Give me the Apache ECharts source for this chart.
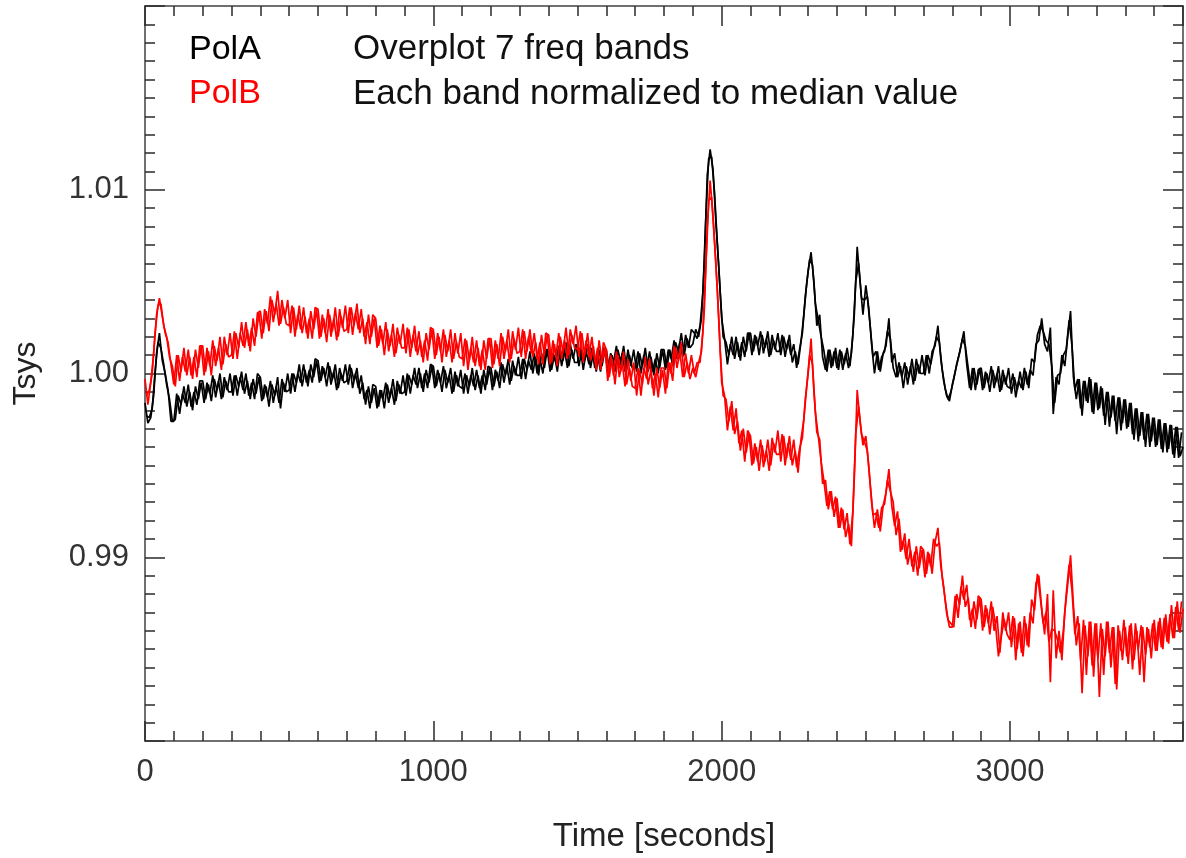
<!DOCTYPE html>
<html>
<head>
<meta charset="utf-8">
<script src="https://cdn.jsdelivr.net/npm/echarts@6/dist/echarts.min.js"></script>
<style>
html,body{margin:0;padding:0;background:#fff;}
#chart{width:1186px;height:858px;}
</style>
</head>
<body>
<div id="chart"></div>
<script>
// Sampling step of the traces (seconds); band 1 starts at 0 s, band 2 at 5 s
const SAMPLE_STEP = 10;
const BAND_START = [0, 5];

// PolA (black) Tsys, frequency band 1, t = 0,10,...,3600 s
const polA1 = [
0.9984,0.9973,0.9976,0.9988,1.0011,1.0022,1.0007,1.0000,0.9991,0.9974,
0.9974,0.9989,0.9978,0.9989,0.9984,0.9994,0.9982,0.9990,0.9983,0.9996,
0.9996,0.9986,0.9994,0.9985,0.9997,0.9991,1.0000,0.9987,0.9996,0.9990,
0.9990,0.9999,0.9988,0.9998,0.9991,1.0000,0.9988,0.9995,0.9986,1.0000,
0.9998,0.9986,0.9993,0.9982,0.9994,0.9988,0.9998,0.9981,0.9995,0.9990,
0.9991,1.0000,0.9990,1.0000,0.9995,1.0005,0.9995,1.0002,0.9995,1.0008,
1.0007,0.9996,1.0003,0.9993,1.0004,0.9997,1.0005,0.9992,1.0000,0.9995,
0.9996,1.0005,0.9992,1.0000,0.9992,0.9999,0.9986,0.9991,0.9981,0.9994,
0.9993,0.9982,0.9991,0.9981,0.9994,0.9987,0.9997,0.9985,0.9994,0.9989,
0.9990,1.0000,0.9989,0.9999,0.9994,1.0003,0.9992,1.0000,0.9992,1.0005,
1.0004,0.9993,1.0000,0.9990,1.0002,0.9995,1.0003,0.9990,0.9999,0.9993,
0.9992,1.0000,0.9989,0.9999,0.9993,1.0002,0.9992,0.9999,0.9991,1.0004,
1.0003,0.9993,1.0001,0.9992,1.0005,0.9999,1.0008,0.9996,1.0004,0.9999,
0.9999,1.0008,0.9997,1.0007,1.0002,1.0011,1.0000,1.0008,1.0000,1.0013,
1.0013,1.0002,1.0010,1.0001,1.0013,1.0007,1.0017,1.0004,1.0013,1.0006,
1.0006,1.0014,1.0002,1.0012,1.0005,1.0014,1.0003,1.0010,1.0001,1.0014,
1.0013,1.0002,1.0010,1.0001,1.0013,1.0006,1.0015,1.0002,1.0010,1.0003,
1.0003,1.0012,1.0000,1.0010,1.0003,1.0012,1.0001,1.0008,1.0000,1.0013,
1.0013,1.0003,1.0013,1.0004,1.0017,1.0012,1.0022,1.0010,1.0019,1.0014,
1.0016,1.0024,1.0020,1.0030,1.0060,1.0108,1.0122,1.0111,1.0082,1.0058,
1.0030,1.0019,1.0005,1.0016,1.0010,1.0020,1.0009,1.0017,1.0009,1.0022,
1.0022,1.0012,1.0020,1.0010,1.0021,1.0014,1.0023,1.0010,1.0018,1.0012,
1.0012,1.0021,1.0009,1.0018,1.0010,1.0016,1.0003,1.0013,1.0022,1.0042,
1.0056,1.0066,1.0050,1.0026,1.0032,1.0009,1.0002,1.0013,1.0003,1.0012,
1.0003,1.0013,1.0002,1.0011,1.0003,1.0011,1.0032,1.0069,1.0050,1.0032,
1.0048,1.0036,1.0016,1.0000,1.0012,1.0001,1.0011,1.0015,1.0030,1.0006,
1.0011,0.9998,1.0004,0.9992,1.0004,0.9998,1.0008,0.9996,1.0005,1.0000,
1.0000,1.0010,1.0000,1.0012,1.0015,1.0026,1.0008,0.9996,0.9988,0.9985,
0.9994,1.0001,1.0008,1.0015,1.0023,1.0005,0.9992,1.0003,0.9991,1.0002,
1.0003,0.9992,1.0000,0.9990,1.0002,0.9995,1.0004,0.9991,0.9999,0.9993,
0.9992,1.0000,0.9987,0.9996,0.9992,1.0003,0.9994,1.0002,0.9999,1.0016,
1.0018,1.0030,1.0016,1.0012,1.0025,0.9978,0.9998,0.9994,1.0010,1.0004,
1.0020,1.0034,0.9998,0.9986,0.9997,0.9977,0.9996,0.9984,0.9997,0.9978,
0.9995,0.9981,0.9992,0.9972,0.9990,0.9976,0.9988,0.9967,0.9987,0.9973,
0.9986,0.9971,0.9984,0.9964,0.9981,0.9966,0.9979,0.9960,0.9978,0.9963,
0.9976,0.9961,0.9975,0.9957,0.9973,0.9959,0.9972,0.9954,0.9971,0.9955,
0.9960
];

// PolA (black) Tsys, frequency band 2, t = 5,15,...,3595 s
const polA2 = [
0.9977,0.9976,0.9981,1.0001,1.0017,1.0014,1.0005,0.9994,0.9986,0.9974,
0.9975,0.9988,0.9983,0.9993,0.9982,0.9990,0.9980,0.9993,0.9986,0.9995,
0.9984,0.9995,0.9989,0.9999,0.9987,0.9996,0.9986,0.9998,0.9991,1.0000,
0.9988,0.9999,0.9993,1.0001,0.9989,0.9996,0.9986,0.9997,0.9989,0.9998,
0.9985,0.9994,0.9987,0.9996,0.9984,0.9993,0.9984,0.9997,0.9990,1.0000,
0.9989,1.0000,0.9995,1.0005,0.9993,1.0002,0.9993,1.0005,0.9998,1.0007,
0.9995,1.0004,0.9998,1.0006,0.9994,1.0001,0.9991,1.0003,0.9996,1.0005,
0.9994,1.0003,0.9996,1.0003,0.9989,0.9995,0.9983,0.9993,0.9984,0.9992,
0.9981,0.9991,0.9986,0.9995,0.9984,0.9992,0.9983,0.9996,0.9989,0.9999,
0.9988,0.9999,0.9994,1.0003,0.9992,1.0000,0.9990,1.0002,0.9995,1.0004,
0.9992,1.0002,0.9995,1.0004,0.9992,0.9999,0.9989,1.0001,0.9993,1.0002,
0.9989,0.9999,0.9993,1.0003,0.9991,0.9999,0.9989,1.0002,0.9994,1.0003,
0.9991,1.0002,0.9996,1.0006,0.9995,1.0004,0.9994,1.0007,0.9999,1.0009,
0.9997,1.0008,1.0002,1.0012,1.0000,1.0009,0.9999,1.0011,1.0003,1.0013,
1.0001,1.0011,1.0006,1.0015,1.0004,1.0013,1.0003,1.0016,1.0008,1.0016,
1.0004,1.0013,1.0007,1.0016,1.0003,1.0011,1.0001,1.0013,1.0004,1.0013,
1.0001,1.0011,1.0006,1.0015,1.0003,1.0011,1.0001,1.0013,1.0004,1.0013,
1.0001,1.0011,1.0004,1.0014,1.0001,1.0009,0.9999,1.0011,1.0003,1.0013,
1.0002,1.0013,1.0008,1.0018,1.0008,1.0017,1.0009,1.0021,1.0014,1.0024,
1.0022,1.0019,1.0026,1.0044,1.0085,1.0117,1.0118,1.0099,1.0071,1.0044,
1.0020,1.0017,1.0010,1.0020,1.0008,1.0017,1.0007,1.0020,1.0012,1.0022,
1.0010,1.0021,1.0015,1.0023,1.0011,1.0019,1.0009,1.0021,1.0013,1.0022,
1.0010,1.0020,1.0013,1.0021,1.0006,1.0012,1.0005,1.0017,1.0032,1.0049,
1.0062,1.0059,1.0038,1.0029,1.0020,1.0012,1.0001,1.0013,1.0004,1.0014,
1.0002,1.0012,1.0005,1.0014,1.0004,1.0021,1.0050,1.0060,1.0041,1.0040,
1.0042,1.0026,1.0009,1.0012,1.0002,1.0009,1.0012,1.0023,1.0019,1.0003,
0.9998,1.0006,0.9998,1.0006,0.9994,1.0004,0.9994,1.0008,1.0000,1.0010,
0.9999,1.0010,1.0005,1.0013,1.0020,1.0017,1.0002,0.9992,0.9986,0.9990,
0.9997,1.0005,1.0011,1.0019,1.0015,1.0003,0.9991,1.0003,0.9994,1.0003,
0.9991,1.0001,0.9995,1.0004,0.9992,1.0000,0.9990,1.0002,0.9994,1.0003,
0.9989,0.9998,0.9991,1.0001,0.9991,1.0001,0.9992,1.0008,1.0006,1.0021,
1.0026,1.0023,1.0018,1.0016,1.0004,0.9984,0.9999,1.0000,1.0010,1.0013,
1.0029,1.0015,0.9991,0.9997,0.9981,0.9996,0.9985,0.9998,0.9979,0.9995,
0.9980,0.9993,0.9977,0.9990,0.9971,0.9988,0.9974,0.9987,0.9969,0.9986,
0.9970,0.9984,0.9967,0.9981,0.9963,0.9979,0.9964,0.9978,0.9960,0.9976,
0.9960,0.9975,0.9959,0.9973,0.9957,0.9972,0.9956,0.9971,0.9954,0.9968
];

// PolB (red) Tsys, frequency band 1, t = 0,10,...,3600 s
const polB1 = [
0.9997,0.9983,0.9995,1.0011,1.0032,1.0041,1.0031,1.0022,1.0017,1.0005,
0.9994,1.0010,0.9996,1.0009,1.0001,1.0013,0.9999,1.0009,0.9998,1.0015,
1.0015,1.0001,1.0012,0.9999,1.0015,1.0007,1.0020,1.0005,1.0016,1.0009,
1.0010,1.0023,1.0008,1.0022,1.0015,1.0028,1.0015,1.0025,1.0015,1.0033,
1.0034,1.0022,1.0034,1.0023,1.0040,1.0032,1.0045,1.0027,1.0036,1.0027,
1.0026,1.0037,1.0020,1.0032,1.0024,1.0036,1.0022,1.0030,1.0019,1.0036,
1.0035,1.0020,1.0030,1.0017,1.0032,1.0023,1.0036,1.0020,1.0031,1.0023,
1.0024,1.0036,1.0021,1.0033,1.0024,1.0035,1.0020,1.0028,1.0016,1.0032,
1.0030,1.0015,1.0024,1.0010,1.0024,1.0015,1.0027,1.0011,1.0021,1.0014,
1.0014,1.0025,1.0009,1.0021,1.0012,1.0023,1.0009,1.0018,1.0007,1.0025,
1.0024,1.0010,1.0020,1.0006,1.0021,1.0012,1.0024,1.0008,1.0017,1.0009,
1.0008,1.0019,1.0002,1.0014,1.0006,1.0018,1.0004,1.0013,1.0002,1.0019,
1.0019,1.0005,1.0016,1.0004,1.0020,1.0012,1.0024,1.0008,1.0019,1.0011,
1.0012,1.0024,1.0008,1.0020,1.0011,1.0022,1.0008,1.0017,1.0005,1.0022,
1.0021,1.0006,1.0016,1.0004,1.0020,1.0012,1.0025,1.0010,1.0021,1.0014,
1.0013,1.0023,1.0006,1.0018,1.0009,1.0020,1.0006,1.0014,1.0002,1.0017,
1.0013,0.9998,1.0008,0.9994,1.0010,1.0001,1.0012,0.9994,1.0003,0.9993,
0.9992,1.0003,0.9988,1.0003,0.9997,1.0008,0.9992,1.0000,0.9987,1.0003,
1.0003,0.9992,1.0006,0.9996,1.0014,1.0007,1.0017,0.9998,1.0006,0.9997,
1.0003,0.9998,1.0006,1.0012,1.0035,1.0080,1.0105,1.0086,1.0060,1.0030,
0.9995,0.9988,0.9969,0.9982,0.9969,0.9981,0.9962,0.9969,0.9952,0.9969,
0.9966,0.9951,0.9960,0.9947,0.9961,0.9952,0.9964,0.9950,0.9962,0.9956,
0.9956,0.9967,0.9950,0.9962,0.9953,0.9964,0.9949,0.9959,0.9965,0.9986,
1.0000,1.0019,0.9990,0.9968,0.9964,0.9940,0.9942,0.9926,0.9936,0.9922,
0.9932,0.9916,0.9926,0.9911,0.9918,0.9906,0.9943,0.9991,0.9974,0.9961,
0.9966,0.9950,0.9930,0.9916,0.9926,0.9914,0.9928,0.9935,0.9948,0.9928,
0.9917,0.9925,0.9903,0.9909,0.9899,0.9910,0.9895,0.9903,0.9890,0.9906,
0.9904,0.9891,0.9902,0.9891,0.9908,0.9916,0.9895,0.9884,0.9870,0.9862,
0.9862,0.9879,0.9867,0.9884,0.9877,0.9885,0.9866,0.9872,0.9861,0.9879,
0.9877,0.9862,0.9872,0.9858,0.9873,0.9863,0.9846,0.9857,0.9866,0.9858,
0.9855,0.9868,0.9844,0.9864,0.9848,0.9868,0.9852,0.9870,0.9864,0.9886,
0.9890,0.9872,0.9858,0.9880,0.9832,0.9882,0.9845,0.9860,0.9844,0.9870,
0.9885,0.9901,0.9874,0.9852,0.9864,0.9826,0.9863,0.9846,0.9865,0.9835,
0.9864,0.9824,0.9861,0.9846,0.9865,0.9840,0.9862,0.9828,0.9860,0.9844,
0.9862,0.9842,0.9864,0.9844,0.9860,0.9836,0.9862,0.9847,0.9861,0.9845,
0.9866,0.9849,0.9867,0.9850,0.9869,0.9853,0.9874,0.9856,0.9876,0.9859,
0.9872
];

// PolB (red) Tsys, frequency band 2, t = 5,15,...,3595 s
const polB2 = [
0.9988,0.9991,1.0000,1.0022,1.0037,1.0038,1.0026,1.0020,1.0009,1.0004,
0.9993,1.0010,1.0001,1.0014,0.9999,1.0009,0.9997,1.0013,1.0003,1.0015,
0.9999,1.0014,1.0004,1.0018,1.0004,1.0014,1.0002,1.0020,1.0010,1.0022,
1.0008,1.0022,1.0014,1.0028,1.0014,1.0024,1.0012,1.0030,1.0020,1.0033,
1.0019,1.0035,1.0027,1.0042,1.0028,1.0038,1.0026,1.0040,1.0030,1.0040,
1.0022,1.0036,1.0024,1.0037,1.0022,1.0031,1.0019,1.0034,1.0024,1.0035,
1.0019,1.0032,1.0022,1.0035,1.0020,1.0030,1.0018,1.0035,1.0025,1.0037,
1.0022,1.0036,1.0026,1.0038,1.0022,1.0030,1.0016,1.0032,1.0020,1.0030,
1.0014,1.0026,1.0016,1.0028,1.0012,1.0021,1.0009,1.0025,1.0016,1.0027,
1.0011,1.0024,1.0014,1.0026,1.0010,1.0018,1.0006,1.0022,1.0013,1.0024,
1.0008,1.0022,1.0012,1.0024,1.0009,1.0018,1.0006,1.0022,1.0011,1.0022,
1.0004,1.0018,1.0007,1.0020,1.0004,1.0014,1.0002,1.0018,1.0008,1.0019,
1.0003,1.0018,1.0008,1.0022,1.0008,1.0018,1.0006,1.0023,1.0013,1.0025,
1.0009,1.0023,1.0012,1.0024,1.0009,1.0017,1.0005,1.0021,1.0010,1.0021,
1.0005,1.0018,1.0009,1.0022,1.0008,1.0018,1.0008,1.0024,1.0016,1.0026,
1.0009,1.0022,1.0010,1.0022,1.0007,1.0015,1.0002,1.0018,1.0006,1.0014,
0.9996,1.0010,0.9999,1.0012,0.9998,1.0006,0.9993,1.0008,0.9996,1.0006,
0.9988,1.0002,0.9994,1.0009,0.9994,1.0002,0.9988,1.0003,0.9992,1.0002,
0.9989,1.0006,1.0000,1.0015,1.0003,1.0012,0.9998,1.0011,1.0000,1.0010,
1.0000,1.0006,1.0006,1.0023,1.0058,1.0094,1.0096,1.0072,1.0045,1.0012,
0.9988,0.9986,0.9974,0.9985,0.9967,0.9974,0.9958,0.9970,0.9957,0.9967,
0.9950,0.9962,0.9952,0.9964,0.9949,0.9958,0.9947,0.9965,0.9957,0.9969,
0.9952,0.9966,0.9954,0.9966,0.9950,0.9958,0.9946,0.9964,0.9975,0.9993,
1.0010,1.0005,0.9979,0.9966,0.9952,0.9941,0.9928,0.9936,0.9926,0.9933,
0.9916,0.9927,0.9915,0.9924,0.9907,0.9925,0.9967,0.9982,0.9967,0.9963,
0.9958,0.9940,0.9923,0.9924,0.9916,0.9927,0.9929,0.9942,0.9936,0.9930,
0.9912,0.9921,0.9904,0.9913,0.9896,0.9904,0.9892,0.9906,0.9894,0.9904,
0.9889,0.9903,0.9895,0.9910,0.9906,0.9908,0.9889,0.9877,0.9866,0.9864,
0.9862,0.9880,0.9874,0.9890,0.9873,0.9878,0.9862,0.9876,0.9866,0.9878,
0.9860,0.9874,0.9864,0.9876,0.9860,0.9868,0.9848,0.9870,0.9860,0.9870,
0.9851,0.9867,0.9850,0.9865,0.9846,0.9864,0.9851,0.9877,0.9871,0.9891,
0.9878,0.9864,0.9870,0.9854,0.9861,0.9860,0.9855,0.9848,0.9860,0.9880,
0.9896,0.9882,0.9858,0.9868,0.9844,0.9866,0.9836,0.9865,0.9841,0.9864,
0.9845,0.9864,0.9836,0.9865,0.9848,0.9862,0.9831,0.9863,0.9849,0.9866,
0.9846,0.9863,0.9839,0.9864,0.9850,0.9863,0.9832,0.9862,0.9851,0.9864,
0.9849,0.9865,0.9851,0.9867,0.9854,0.9869,0.9856,0.9873,0.9860,0.9876
];

const legendNames = ['PolA', 'PolB'];
const notes = ['Overplot 7 freq bands', 'Each band normalized to median value'];
const xTickLabels = [0, 1000, 2000, 3000];
const yTickLabels = [0.99, 1.00, 1.01];

const FONT = '"Liberation Sans", Helvetica, Arial, sans-serif';
const toPairs = (arr, t0) => arr.map((v, i) => [t0 + i * SAMPLE_STEP, v]);

const axisLineStyle = { color: '#707070', width: 2 };
const tickStyle = { color: '#2a2a2a', width: 1.5 };

function xAxisDef(position, major, withLabels) {
  return {
    type: 'value', gridIndex: 0, position: position,
    min: 0, max: 3600, interval: major ? 1000 : 100,
    axisLine: { show: major, onZero: false, lineStyle: axisLineStyle },
    axisTick: { show: true, inside: true, length: major ? 20 : 10, lineStyle: tickStyle },
    axisLabel: withLabels ? {
      show: true, margin: 16, fontSize: 31, color: '#333', fontFamily: FONT,
      formatter: v => (xTickLabels.indexOf(v) >= 0 ? String(v) : '')
    } : { show: false },
    splitLine: { show: false },
    name: withLabels ? 'Time [seconds]' : '',
    nameLocation: 'middle', nameGap: 79,
    nameTextStyle: { fontSize: 33, color: '#222', fontFamily: FONT }
  };
}

function yAxisDef(position, withLabels) {
  return {
    type: 'value', gridIndex: 0, position: position,
    min: 0.98, max: 1.02, interval: 0.01,
    axisLine: { show: true, onZero: false, lineStyle: axisLineStyle },
    axisTick: { show: true, inside: true, length: 20, lineStyle: tickStyle },
    minorTick: { show: true, splitNumber: 10, length: 10, lineStyle: tickStyle },
    axisLabel: withLabels ? {
      show: true, margin: 16, fontSize: 31, color: '#333', fontFamily: FONT,
      showMinLabel: false, showMaxLabel: false,
      formatter: v => {
        const s = v.toFixed(2);
        return yTickLabels.some(t => t.toFixed(2) === s) ? s : '';
      }
    } : { show: false },
    splitLine: { show: false }, minorSplitLine: { show: false },
    name: withLabels ? 'Tsys' : '',
    nameLocation: 'middle', nameGap: 103, nameRotate: 90,
    nameTextStyle: { fontSize: 32, color: '#222', fontFamily: FONT }
  };
}

function trace(name, arr, t0, color, z) {
  return {
    name: name, type: 'line', xAxisIndex: 0, yAxisIndex: 0,
    data: toPairs(arr, t0), showSymbol: false, symbol: 'none',
    lineStyle: { color: color, width: 1.7 }, itemStyle: { color: color },
    clip: true, z: z
  };
}

const chart = echarts.init(document.getElementById('chart'), null, { renderer: 'canvas' });
chart.setOption({
  animation: false,
  backgroundColor: '#ffffff',
  grid: { left: 145, right: 3, top: 6, bottom: 116, containLabel: false },
  xAxis: [
    xAxisDef('bottom', true, true),
    xAxisDef('bottom', false, false),
    xAxisDef('top', true, false),
    xAxisDef('top', false, false)
  ],
  yAxis: [
    yAxisDef('left', true),
    yAxisDef('right', false)
  ],
  legend: {
    show: true, orient: 'vertical', left: 183, top: 33, padding: 0,
    itemWidth: 0, itemHeight: 0, itemGap: 10, selectedMode: false,
    textStyle: { fontSize: 34, fontFamily: FONT },
    data: [
      { name: legendNames[0], textStyle: { color: '#000000' } },
      { name: legendNames[1], textStyle: { color: '#ff0000' } }
    ]
  },
  graphic: [
    { type: 'text', x: 353, y: 49, style: { text: notes[0], fontSize: 35, fontFamily: FONT, fill: '#111', textVerticalAlign: 'middle' } },
    { type: 'text', x: 353, y: 94, style: { text: notes[1], fontSize: 35, fontFamily: FONT, fill: '#111', textVerticalAlign: 'middle' } }
  ],
  series: [
    trace(legendNames[0], polA1, BAND_START[0], '#000000', 2),
    trace(legendNames[0], polA2, BAND_START[1], '#000000', 2),
    trace(legendNames[1], polB1, BAND_START[0], '#ff0000', 3),
    trace(legendNames[1], polB2, BAND_START[1], '#ff0000', 3)
  ]
});
</script>
</body>
</html>
